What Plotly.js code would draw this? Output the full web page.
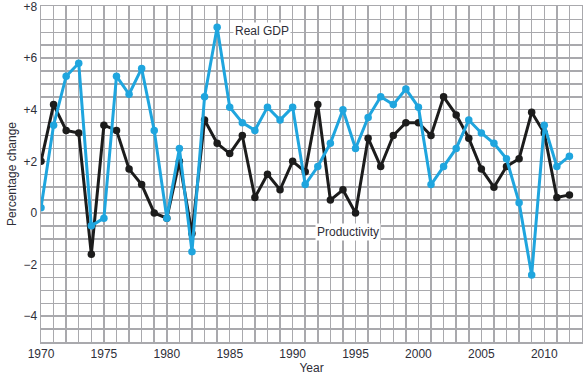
<!DOCTYPE html>
<html>
<head>
<meta charset="utf-8">
<script src="https://cdn.plot.ly/plotly-3.0.1.min.js"></script>
<style>html,body{margin:0;padding:0;background:#fff;}#chart{width:583px;height:375px;}</style>
</head>
<body>
<div id="chart"></div>
<script>
var years = [1970,1971,1972,1973,1974,1975,1976,1977,1978,1979,1980,1981,1982,1983,1984,1985,1986,1987,1988,1989,1990,1991,1992,1993,1994,1995,1996,1997,1998,1999,2000,2001,2002,2003,2004,2005,2006,2007,2008,2009,2010,2011,2012];
var realGDP = [0.2,3.4,5.3,5.8,-0.5,-0.2,5.3,4.6,5.6,3.2,-0.2,2.5,-1.5,4.5,7.2,4.1,3.5,3.2,4.1,3.6,4.1,1.1,1.8,2.7,4.0,2.5,3.7,4.5,4.2,4.8,4.1,1.1,1.8,2.5,3.6,3.1,2.7,2.1,0.4,-2.4,3.4,1.8,2.2];
var productivity = [2.0,4.2,3.2,3.1,-1.6,3.4,3.2,1.7,1.1,0.0,-0.2,2.0,-0.8,3.6,2.7,2.3,3.0,0.6,1.5,0.9,2.0,1.6,4.2,0.5,0.9,0.0,2.9,1.8,3.0,3.5,3.5,3.0,4.5,3.8,2.9,1.7,1.0,1.8,2.1,3.9,3.1,0.6,0.7];
var xTickVals = [1970,1975,1980,1985,1990,1995,2000,2005,2010];
var yTickVals = [-4,-2,0,2,4,6,8];
var yTickText = ["\u22124","\u22122","0","+2","+4","+6","+8"];

var blue = "#1fa5de";
var black = "#1c1c1c";
var gridCol = "#a9a9ad";
var textCol = "#2e2e38";

var traces = [
  {x: years, y: productivity, type: "scatter", mode: "lines+markers", name: "Productivity",
   line: {color: black, width: 3}, marker: {color: black, size: 7.5}},
  {x: years, y: realGDP, type: "scatter", mode: "lines+markers", name: "Real GDP",
   line: {color: blue, width: 3}, marker: {color: blue, size: 7.5}}
];

var layout = {
  width: 583, height: 375,
  margin: {l: 41, r: 1, t: 6, b: 33},
  paper_bgcolor: "#fff", plot_bgcolor: "#fff",
  showlegend: false,
  font: {family: "Liberation Sans, Arial, sans-serif", size: 12, color: textCol},
  xaxis: {
    range: [1970, 2013], tickvals: xTickVals, ticks: "", showgrid: true,
    gridcolor: gridCol, gridwidth: 1.5, zeroline: false,
    showline: true, linecolor: gridCol, linewidth: 1.5, mirror: true,
    minor: {dtick: 1, tick0: 1970, showgrid: true, gridcolor: gridCol, gridwidth: 1.5},
    tickfont: {size: 12, color: textCol}, ticklabeloverflow: "allow",
    title: {text: "Year", font: {size: 12, color: textCol}, standoff: 4}
  },
  yaxis: {
    range: [-5, 8.02], tickvals: yTickVals, ticktext: yTickText, ticks: "",
    showgrid: true, gridcolor: gridCol, gridwidth: 1.5, zeroline: false,
    showline: true, linecolor: gridCol, linewidth: 1.5, mirror: true,
    minor: {dtick: 0.5, tick0: 0, showgrid: true, gridcolor: gridCol, gridwidth: 1.5},
    tickfont: {size: 12, color: textCol}, ticklabeloverflow: "allow",
    title: {text: "Percentage change", font: {size: 12, color: textCol}, standoff: 4}
  },
  annotations: [
    {x: 1987.6, y: 7.05, xref: "x", yref: "y", text: "Real GDP", showarrow: false,
     bgcolor: "#fff", font: {size: 12, color: textCol}},
    {x: 1994.4, y: -0.75, xref: "x", yref: "y", text: "Productivity", showarrow: false,
     bgcolor: "#fff", font: {size: 12, color: textCol}}
  ]
};

Plotly.newPlot("chart", traces, layout, {staticPlot: true, displayModeBar: false});
</script>
</body>
</html>
